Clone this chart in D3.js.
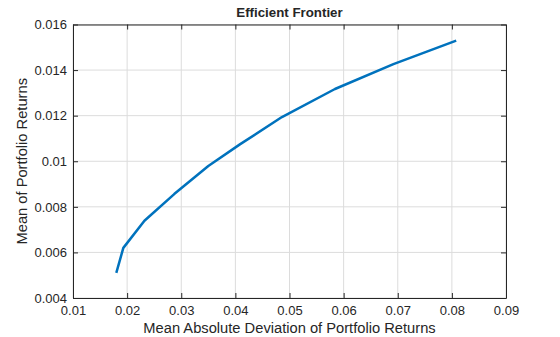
<!DOCTYPE html>
<html>
<head>
<meta charset="utf-8">
<script src="https://cdn.jsdelivr.net/npm/d3@7"></script>
<style>
  body { margin: 0; background: #fff; }
  text { font-family: "Liberation Sans", Arial, sans-serif; fill: #262626; }
</style>
</head>
<body>
<div id="chart"></div>
<script>
// risk (mean absolute deviation) and return of each frontier portfolio
const riskValues = [0.0180, 0.0193, 0.0232, 0.0287, 0.0350, 0.0409, 0.0486, 0.0584, 0.0692, 0.0808];
const returnValues = [0.0051, 0.0062, 0.00739, 0.00856, 0.00979, 0.01075, 0.01194, 0.01317, 0.01426, 0.01529];
const xTicks = [0.01, 0.02, 0.03, 0.04, 0.05, 0.06, 0.07, 0.08, 0.09];
const yTicks = [0.004, 0.006, 0.008, 0.01, 0.012, 0.014, 0.016];

const width = 560, height = 337;
const margin = { left: 73, right: 54, top: 24.5, bottom: 39 };

const svg = d3.select("#chart").append("svg")
    .attr("width", width).attr("height", height);

const x = d3.scaleLinear().domain([0.01, 0.09]).range([margin.left, width - margin.right]);
const y = d3.scaleLinear().domain([0.004, 0.016]).range([height - margin.bottom, margin.top]);

// grid lines
svg.append("g").selectAll("line").data(xTicks).enter().append("line")
    .attr("x1", d => x(d)).attr("x2", d => x(d))
    .attr("y1", y(0.004)).attr("y2", y(0.016))
    .attr("stroke", "#dcdcdc").attr("stroke-width", 1);
svg.append("g").selectAll("line").data(yTicks).enter().append("line")
    .attr("y1", d => y(d)).attr("y2", d => y(d))
    .attr("x1", x(0.01)).attr("x2", x(0.09))
    .attr("stroke", "#dcdcdc").attr("stroke-width", 1);

// axes
const fmt = d => String(+d.toFixed(3));
svg.append("g").attr("transform", `translate(0,${y(0.004)})`)
    .call(d3.axisBottom(x).tickValues(xTicks).tickFormat(fmt).tickSizeInner(-5).tickSizeOuter(0).tickPadding(8));
svg.append("g").attr("transform", `translate(0,${y(0.016)})`)
    .call(d3.axisTop(x).tickValues(xTicks).tickFormat("").tickSizeInner(-5).tickSizeOuter(0));
svg.append("g").attr("transform", `translate(${x(0.01)},0)`)
    .call(d3.axisLeft(y).tickValues(yTicks).tickFormat(fmt).tickSizeInner(-5).tickSizeOuter(0).tickPadding(6));
svg.append("g").attr("transform", `translate(${x(0.09)},0)`)
    .call(d3.axisRight(y).tickValues(yTicks).tickFormat("").tickSizeInner(-5).tickSizeOuter(0));

svg.selectAll(".domain").attr("stroke", "#262626").attr("stroke-width", 1);
svg.selectAll(".tick line").attr("stroke", "#262626");
svg.selectAll(".tick text").attr("font-size", 13).attr("fill", "#262626")
    .attr("font-family", "'Liberation Sans', Arial, sans-serif");

// frontier line
const pts = riskValues.map((r, i) => [r, returnValues[i]]);
svg.append("path").datum(pts)
    .attr("fill", "none").attr("stroke", "#0072bd").attr("stroke-width", 2.5)
    .attr("stroke-linejoin", "round")
    .attr("d", d3.line().x(d => x(d[0])).y(d => y(d[1])));

// labels
svg.append("text").attr("x", (x(0.01) + x(0.09)) / 2).attr("y", 17)
    .attr("text-anchor", "middle").attr("font-size", 13.3).attr("font-weight", "bold")
    .attr("fill", "#000").text("Efficient Frontier");
svg.append("text").attr("x", (x(0.01) + x(0.09)) / 2).attr("y", 333)
    .attr("text-anchor", "middle").attr("font-size", 14.7).text("Mean Absolute Deviation of Portfolio Returns");
svg.append("text").attr("transform", `translate(26.5,${(y(0.004) + y(0.016)) / 2}) rotate(-90)`)
    .attr("text-anchor", "middle").attr("font-size", 14.7).text("Mean of Portfolio Returns");
</script>
</body>
</html>
